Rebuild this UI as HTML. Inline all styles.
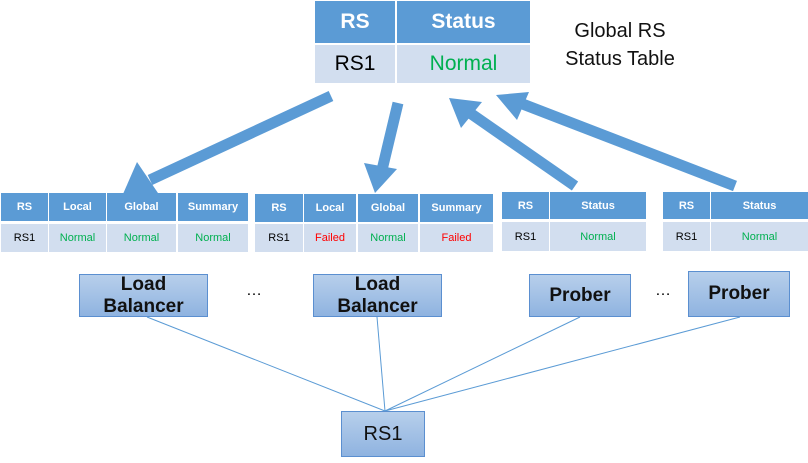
<!DOCTYPE html>
<html><head><style>
body{margin:0;width:808px;height:463px;background:#fff;position:relative;font-family:"Liberation Sans","Noto Sans CJK SC",sans-serif;overflow:hidden}
.c{position:absolute;display:flex;align-items:center;justify-content:center;box-sizing:border-box}
.h{background:#5b9bd5;color:#fff;font-weight:bold}
.r{background:#d2deef}
.g{color:#00b050}.f{color:#ff0000}
.box{position:absolute;box-sizing:border-box;border:1px solid #5b8fd0;background:linear-gradient(#b7cfeb,#8fb3e0);display:flex;align-items:center;justify-content:center;text-align:center;font-weight:bold;font-size:19px;line-height:22px;color:#111}
</style></head><body>
<svg width="808" height="463" style="position:absolute;left:0;top:0">
<g stroke="#5b9bd5" stroke-width="1">
<line x1="147" y1="317" x2="385" y2="411"/>
<line x1="377" y1="317" x2="385" y2="411"/>
<line x1="580" y1="317" x2="385" y2="411"/>
<line x1="740" y1="317" x2="385" y2="411"/>
</g>
<g stroke="#5b9bd5" stroke-width="11" fill="#5b9bd5">
<line x1="331" y1="96" x2="150" y2="180"/>
<line x1="398" y1="103" x2="382" y2="170"/>
<line x1="575" y1="186" x2="470" y2="113"/>
<line x1="735" y1="186" x2="520" y2="103"/>
</g>
<g fill="#5b9bd5">
<polygon points="123,194 137,162 160,196"/>
<polygon points="375,193 364,163 397,169"/>
<polygon points="449,98 482,102 461,128"/>
<polygon points="496,95 529,92 517,120"/>
</g>
</svg>
<div class="c h" style="left:315px;top:1px;width:80px;height:42px;font-size:21px">RS</div>
<div class="c h" style="left:397px;top:1px;width:133px;height:42px;font-size:21px">Status</div>
<div class="c r" style="left:315px;top:45px;width:80px;height:38px;font-size:21px">RS1</div>
<div class="c r g" style="left:397px;top:45px;width:133px;height:38px;font-size:21px">Normal</div>
<div style="position:absolute;left:550px;top:17px;width:140px;text-align:center;font-size:20px;line-height:28px;color:#111">Global RS<br>Status Table</div>

<div class="c h" style="left:1px;top:193px;width:47px;height:28px;font-size:11px">RS</div>
<div class="c h" style="left:49px;top:193px;width:57px;height:28px;font-size:11px">Local</div>
<div class="c h" style="left:107px;top:193px;width:69px;height:28px;font-size:11px">Global</div>
<div class="c h" style="left:178px;top:193px;width:70px;height:28px;font-size:11px">Summary</div>
<div class="c r" style="left:1px;top:224px;width:47px;height:28px;font-size:11px">RS1</div>
<div class="c r g" style="left:49px;top:224px;width:57px;height:28px;font-size:11px">Normal</div>
<div class="c r g" style="left:107px;top:224px;width:69px;height:28px;font-size:11px">Normal</div>
<div class="c r g" style="left:178px;top:224px;width:70px;height:28px;font-size:11px">Normal</div>

<div class="c h" style="left:255px;top:194px;width:48px;height:28px;font-size:11px">RS</div>
<div class="c h" style="left:304px;top:194px;width:52px;height:28px;font-size:11px">Local</div>
<div class="c h" style="left:358px;top:194px;width:60px;height:28px;font-size:11px">Global</div>
<div class="c h" style="left:420px;top:194px;width:73px;height:28px;font-size:11px">Summary</div>
<div class="c r" style="left:255px;top:224px;width:48px;height:28px;font-size:11px">RS1</div>
<div class="c r f" style="left:304px;top:224px;width:52px;height:28px;font-size:11px">Failed</div>
<div class="c r g" style="left:358px;top:224px;width:60px;height:28px;font-size:11px">Normal</div>
<div class="c r f" style="left:420px;top:224px;width:73px;height:28px;font-size:11px">Failed</div>

<div class="c h" style="left:502px;top:192px;width:47px;height:27px;font-size:11px">RS</div>
<div class="c h" style="left:550px;top:192px;width:96px;height:27px;font-size:11px">Status</div>
<div class="c r" style="left:502px;top:222px;width:47px;height:29px;font-size:11px">RS1</div>
<div class="c r g" style="left:550px;top:222px;width:96px;height:29px;font-size:11px">Normal</div>

<div class="c h" style="left:663px;top:192px;width:47px;height:27px;font-size:11px">RS</div>
<div class="c h" style="left:711px;top:192px;width:97px;height:27px;font-size:11px">Status</div>
<div class="c r" style="left:663px;top:222px;width:47px;height:29px;font-size:11px">RS1</div>
<div class="c r g" style="left:711px;top:222px;width:97px;height:29px;font-size:11px">Normal</div>

<div class="box" style="left:79px;top:274px;width:129px;height:43px">Load<br>Balancer</div>
<div class="box" style="left:313px;top:274px;width:129px;height:43px">Load<br>Balancer</div>
<div class="box" style="left:529px;top:274px;width:102px;height:43px">Prober</div>
<div class="box" style="left:688px;top:271px;width:102px;height:46px">Prober</div>
<div class="box" style="left:341px;top:411px;width:84px;height:46px;font-weight:normal;font-size:20px">RS1</div>
<div style="position:absolute;left:246px;top:282px;font-size:16px">…</div>
<div style="position:absolute;left:655px;top:282px;font-size:16px">…</div>
</body></html>
